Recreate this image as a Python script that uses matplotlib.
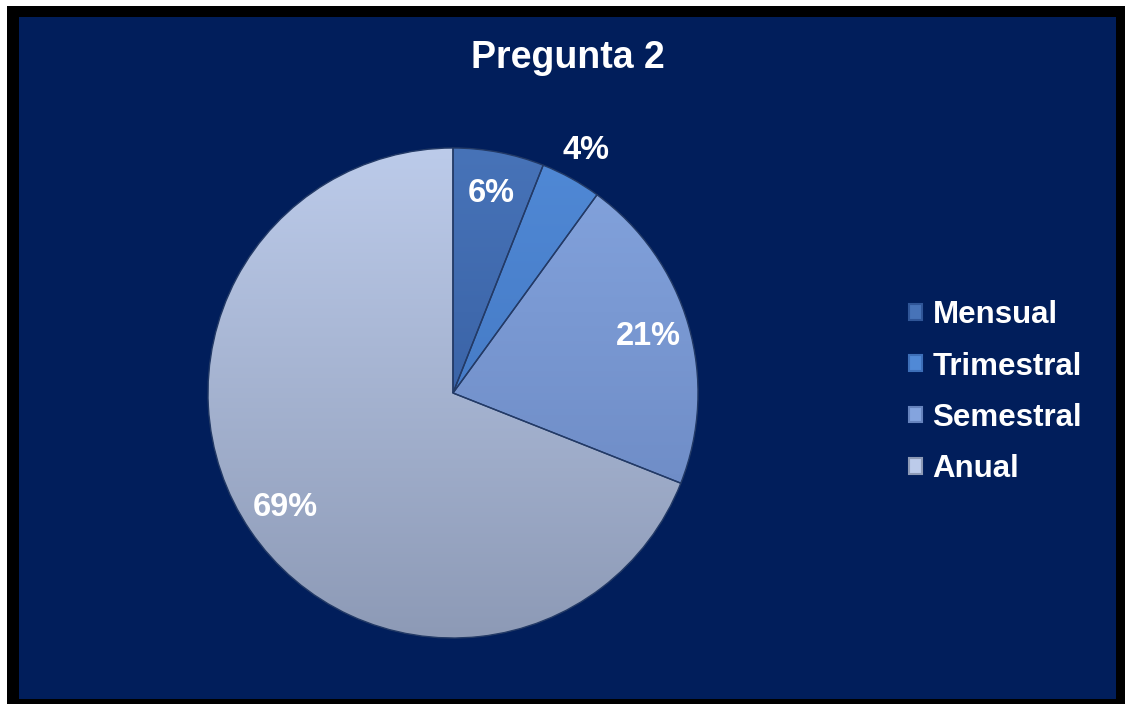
import numpy as np
import matplotlib
matplotlib.use('Agg')
import matplotlib.pyplot as plt
from matplotlib.patches import Rectangle
from matplotlib.colors import LinearSegmentedColormap

plt.rcParams['font.family'] = ['Liberation Sans', 'DejaVu Sans']
plt.rcParams['font.weight'] = 'bold'

# datos de la grafica
categorias = ['Mensual', 'Trimestral', 'Semestral', 'Anual']
porcentajes = [6, 4, 21, 69]
etiquetas = ['6%', '4%', '21%', '69%']
titulo = 'Pregunta 2'

# colores (arriba, abajo) para el degradado de cada porcion
col_arriba = ['#4773b8', '#5089d6', '#84a4de', '#bccbea']
col_abajo = ['#2f5597', '#3d6fb8', '#6683bd', '#8d9ab6']
fondo = '#011e5b'

W, H = 1125, 704
fig = plt.figure(figsize=(W / 100, H / 100), dpi=100)
fig.patch.set_facecolor('white')

# marco negro y fondo azul
fig.patches.append(Rectangle((7 / W, 0), 1 - 7 / W, 1 - 6 / H, transform=fig.transFigure,
                             facecolor='black', edgecolor='none', zorder=-3))
fig.patches.append(Rectangle((19 / W, 5 / H), (1116 - 19) / W, (699 - 17) / H, transform=fig.transFigure,
                             facecolor=fondo, edgecolor='none', zorder=-2))

# ejes para la tarta, centro (453, 393) radio 245 px
cx, cy, r = 453, 393, 245
ax = fig.add_axes([(cx - r) / W, (H - cy - r) / H, 2 * r / W, 2 * r / H])
ax.axis('off')

wedges, _ = ax.pie(porcentajes, startangle=90, counterclock=False, radius=1,
                   wedgeprops=dict(edgecolor='#233a66', linewidth=1.0))

# degradado vertical dentro de cada porcion
grad = np.linspace(1, 0, 256).reshape(-1, 1)
for i, w in enumerate(wedges):
    w.set_facecolor('none')
    cmap = LinearSegmentedColormap.from_list('g%d' % i, [col_abajo[i], col_arriba[i]])
    im = ax.imshow(grad, cmap=cmap, extent=[-1, 1, -1, 1], aspect='auto', zorder=1,
                   vmin=0, vmax=1, origin='upper')
    im.set_clip_path(w)
    w.set_zorder(2)

ax.set_xlim(-1, 1)
ax.set_ylim(-1, 1)
ax.set_aspect('equal')

# etiquetas de porcentaje
total = sum(porcentajes)
acum = 0
for i, p in enumerate(porcentajes):
    ang = np.deg2rad(90 - 360 * (acum + p / 2) / total)
    acum += p
    dist = 1.13 if p < 5 else 0.83
    ax.text(dist * np.cos(ang), dist * np.sin(ang), etiquetas[i], color='white',
            fontsize=23.5, fontweight='bold', ha='center', va='center', zorder=5)

fig.text(0.505, 0.918, titulo, color='white', fontsize=27, fontweight='bold',
         ha='center', va='center')

# leyenda
handles = [Rectangle((0, 0), 1, 1, facecolor=col_arriba[i], edgecolor=col_abajo[i], linewidth=1.5)
           for i in range(len(categorias))]
leg = fig.legend(handles, categorias, loc='center left', bbox_to_anchor=(0.808, 0.443),
                 frameon=False, borderpad=0, borderaxespad=0, handlelength=0.4, handleheight=0.4,
                 handletextpad=0.35, labelspacing=0.68, prop={'size': 22.5, 'weight': 'bold'})
for t in leg.get_texts():
    t.set_color('white')

fig.savefig('out.png', dpi=100, facecolor=fig.get_facecolor())
